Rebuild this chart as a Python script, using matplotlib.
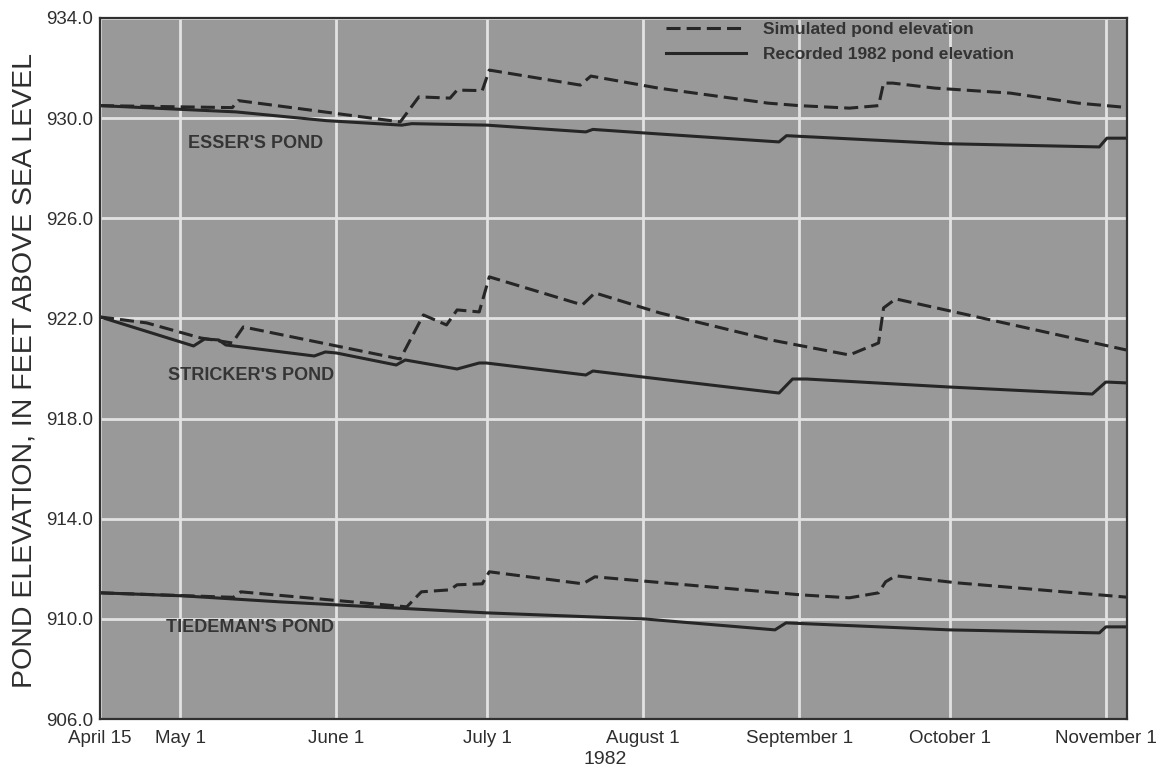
import matplotlib
matplotlib.use("Agg")
import matplotlib.pyplot as plt

plt.rcParams['font.family'] = ['Liberation Sans', 'DejaVu Sans']

# days after April 15, 1982
tick_days = [0, 16, 47, 77, 108, 139, 169, 200]
tick_labels = ['April 15', 'May 1', 'June 1', 'July 1', 'August 1',
               'September 1', 'October 1', 'November 1']

# Esser's pond
esser_rec_days = [0, 27, 45, 60, 62, 77, 96.6, 98, 111, 135, 136.5, 168, 198.7, 200.2, 204.5]
esser_rec = [930.5, 930.25, 929.9, 929.72, 929.78, 929.72, 929.45, 929.55, 929.37,
             929.05, 929.3, 928.98, 928.85, 929.2, 929.2]
esser_sim_days = [0, 26.3, 27.5, 59.7, 63.4, 69.6, 71, 76, 77.4, 95.5, 97.6, 111,
                  132.8, 139, 149, 154.8, 155.8, 157.6, 166, 181, 194.5, 204.5]
esser_sim = [930.5, 930.42, 930.7, 929.85, 930.85, 930.8, 931.12, 931.1, 931.92, 931.32,
             931.68, 931.2, 930.6, 930.5, 930.4, 930.5, 931.4, 931.4, 931.2, 931.0,
             930.6, 930.42]

# Stricker's pond
stricker_rec_days = [0, 18.6, 20.8, 23.6, 25, 42.6, 44.8, 47, 58.9, 60.7, 71, 75.4, 76.8,
                     96.6, 98, 111.3, 135, 137.7, 140.5, 168.9, 197.3, 200, 204.5]
stricker_rec = [922.06, 920.9, 921.18, 921.14, 920.94, 920.5, 920.66, 920.62, 920.14,
                920.34, 919.98, 920.22, 920.22, 919.74, 919.9, 919.58, 919.02, 919.58,
                919.58, 919.26, 918.98, 919.46, 919.42]
stricker_sim_days = [0, 9.3, 20, 26.3, 28.5, 59.7, 64.3, 68.9, 71, 75.4, 77.4, 95.9,
                     98.4, 111.3, 133.4, 149, 154.8, 155.8, 158.2, 204.5]
stricker_sim = [922.06, 921.82, 921.22, 921.02, 921.66, 920.38, 922.14, 921.74, 922.34,
                922.26, 923.66, 922.54, 923.02, 922.22, 921.14, 920.54, 921.02, 922.42,
                922.78, 920.72]

# Tiedeman's pond
tiedeman_rec_days = [0, 16.4, 35.7, 76.8, 108, 134.2, 136.4, 168.9, 198.7, 200, 204.5]
tiedeman_rec = [911.04, 910.92, 910.68, 910.24, 910.0, 909.56, 909.84, 909.56, 909.44,
                909.68, 909.68]
tiedeman_sim_days = [0, 26.5, 28, 61, 63.9, 69.6, 71, 76, 77.4, 96, 98.4, 139.2, 149,
                     154.8, 156.2, 158.2, 170.3, 204.5]
tiedeman_sim = [911.04, 910.86, 911.08, 910.48, 911.08, 911.16, 911.36, 911.4, 911.88,
                911.4, 911.68, 910.96, 910.84, 911.04, 911.48, 911.72, 911.44, 910.86]

line_color = '#262626'
text_color = '#2e2e2e'
dash = (0, (4.6, 2.0))

fig = plt.figure(figsize=(11.59, 7.72), dpi=100)
ax = fig.add_axes([100 / 1159, 53 / 772, 1027 / 1159, 701 / 772])
ax.set_facecolor('#999999')

ax.plot(esser_sim_days, esser_sim, color=line_color, lw=2.2, ls=dash,
        label='Simulated pond elevation')
ax.plot(esser_rec_days, esser_rec, color=line_color, lw=2.2,
        label='Recorded 1982 pond elevation')
ax.plot(stricker_sim_days, stricker_sim, color=line_color, lw=2.2, ls=dash)
ax.plot(stricker_rec_days, stricker_rec, color=line_color, lw=2.2)
ax.plot(tiedeman_sim_days, tiedeman_sim, color=line_color, lw=2.2, ls=dash)
ax.plot(tiedeman_rec_days, tiedeman_rec, color=line_color, lw=2.2)

# pond names
for x, y, name in [(17.4, 928.97, "ESSER'S POND"),
                   (13.6, 919.74, "STRICKER'S POND"),
                   (13.2, 909.64, "TIEDEMAN'S POND")]:
    ax.text(x, y, name, fontsize=13, fontweight='bold', color='#353535',
            ha='left', va='center')

ax.set_xlim(0, 204.2)
ax.set_ylim(906, 934)
ax.set_xticks(tick_days)
ax.set_xticklabels(tick_labels)
ax.set_yticks(range(906, 935, 4))
ax.set_yticklabels([f'{v:.1f}' for v in range(906, 935, 4)])
ax.tick_params(length=0, labelsize=13.5, labelcolor=text_color)
ax.tick_params(axis='x', pad=8)
ax.tick_params(axis='y', pad=5)

ax.grid(True, color='#e2e2e2', lw=2)
ax.set_axisbelow(True)
for s in ax.spines.values():
    s.set_color('#303030')
    s.set_linewidth(1.6)

# x-axis title (year) and y-axis title
fig.text(605 / 1159, 1 - 760 / 772, '1982', fontsize=14, color=text_color,
         ha='center', va='center')
fig.text(25 / 1159, 1 - 370 / 772, 'POND ELEVATION, IN FEET ABOVE SEA LEVEL',
         rotation=90, fontsize=20.5, color=text_color, ha='center', va='center')

leg = ax.legend(loc='upper left', bbox_to_anchor=(0.551, 0.994), frameon=False,
                handlelength=4.6, handletextpad=1.0, labelspacing=0.55,
                borderpad=0, borderaxespad=0,
                prop={'size': 12.5, 'weight': 'bold'})
for t in leg.get_texts():
    t.set_color('#333333')

fig.savefig('out.png', dpi=100)
